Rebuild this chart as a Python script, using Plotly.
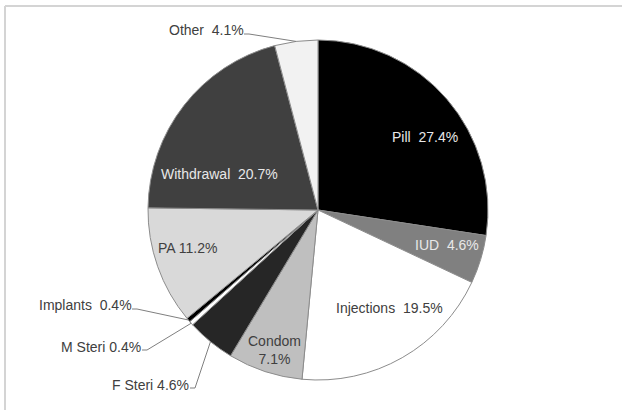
import math
import plotly.graph_objects as go

# ---- data ----
methods = ["Pill", "IUD", "Injections", "Condom", "F Steri", "M Steri",
           "Implants", "PA", "Withdrawal", "Other"]
shares = [27.4, 4.6, 19.5, 7.1, 4.6, 0.4, 0.4, 11.2, 20.7, 4.1]
colors = ["#000000", "#808080", "#ffffff", "#bfbfbf", "#262626", "#ffffff",
          "#000000", "#d9d9d9", "#404040", "#f2f2f2"]

W, H = 622, 410
CX, CY, R = 318, 210, 170
FONT = "Liberation Sans, Arial"
FS = 14

fig = go.Figure(go.Pie(
    labels=methods, values=shares, sort=False, direction="clockwise",
    rotation=0, marker=dict(colors=colors, line=dict(color="#8c8c8c", width=1)),
    textinfo="none", hoverinfo="label+value",
    domain=dict(x=[(CX - R) / W, (CX + R) / W],
                y=[(H - CY - R) / H, (H - CY + R) / H]),
    showlegend=False,
))

def px(x):
    return x / W

def py(y):
    return 1 - y / H

# inside labels (text, pixel centre, colour)
inside = {
    "Pill": ("Pill  27.4%", 425, 137, "#e8e8e8"),
    "IUD": ("IUD  4.6%", 447, 245, "#e8e8e8"),
    "Injections": ("Injections  19.5%", 390, 308, "#404040"),
    "Condom": ("Condom<br>7.1%", 274, 350, "#404040"),
    "PA": ("PA 11.2%", 187, 248, "#404040"),
    "Withdrawal": ("Withdrawal  20.7%", 219, 174, "#e8e8e8"),
}
for name, (txt, x, y, c) in inside.items():
    fig.add_annotation(x=px(x), y=py(y), xref="paper", yref="paper", text=txt,
                       xanchor="center", yanchor="middle", showarrow=False,
                       font=dict(family=FONT, size=FS, color=c))

# outside labels with leader lines: text, text centre, start of leader (pixel)
outside = {
    "Other": ("Other  4.1%", 206, 30, 244, 34),
    "Implants": ("Implants  0.4%", 85, 305, 132, 309),
    "M Steri": ("M Steri 0.4%", 101, 347, 142, 350),
    "F Steri": ("F Steri 4.6%", 150, 385, 190, 388),
}
cum = 0.0
total = sum(shares)
mids = {}
for m, v in zip(methods, shares):
    mids[m] = (cum + v / 2) / total * 2 * math.pi
    cum += v

for name, (txt, tx, ty, lx, ly) in outside.items():
    fig.add_annotation(x=px(tx), y=py(ty), xref="paper", yref="paper", text=txt,
                       xanchor="center", yanchor="middle", showarrow=False,
                       font=dict(family=FONT, size=FS, color="#404040"))
    a = mids[name]
    ex = CX + R * math.sin(a)
    ey = CY - R * math.cos(a)
    path = f"M {px(lx)} {py(ly)} L {px(lx + 5)} {py(ly)} L {px(ex)} {py(ey)}"
    fig.add_shape(type="path", path=path, xref="paper", yref="paper",
                  line=dict(color="#7f7f7f", width=1))

# frame
fig.add_shape(type="line", xref="paper", yref="paper", x0=px(5), y0=py(6), x1=1, y1=py(6),
              line=dict(color="#d4d4d4", width=2))
fig.add_shape(type="line", xref="paper", yref="paper", x0=px(5), y0=py(6), x1=px(5), y1=0,
              line=dict(color="#d4d4d4", width=2))

fig.update_layout(width=W, height=H, margin=dict(l=0, r=0, t=0, b=0),
                  paper_bgcolor="white", plot_bgcolor="white")

fig.write_html("out.html", config={"displayModeBar": False},
               post_script="document.body.style.margin='0';")
